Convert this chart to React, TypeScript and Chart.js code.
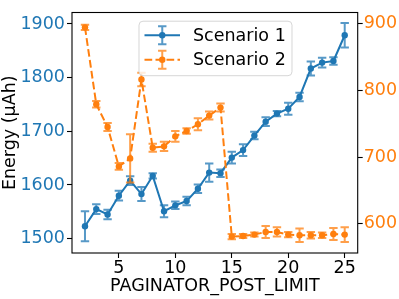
import React, { useEffect, useRef } from 'react';
import { Chart, registerables } from 'chart.js';

Chart.register(...registerables);

const xValues = [2, 3, 4, 5, 6, 7, 8, 9, 10, 11, 12, 13, 14, 15, 16, 17, 18, 19, 20, 21, 22, 23, 24, 25];
const scenario1 = [1523, 1555, 1545, 1580, 1608, 1583, 1617, 1551, 1562, 1570, 1593, 1623, 1622, 1651, 1665, 1692, 1718, 1733, 1742, 1764, 1817, 1828, 1831, 1879];
const scenario1Err = [28, 9, 9, 9, 8, 13, 5, 11, 7, 8, 8, 17, 7, 11, 11, 7, 8, 5, 11, 8, 13, 9, 7, 23];
const scenario2 = [894, 779, 745, 686, 698, 816, 714, 716, 731, 739, 749, 762, 774, 581, 582, 584, 588, 588, 584, 583, 583, 583, 585, 584];
const scenario2Err = [4, 5, 6, 5, 36, 10, 6, 7, 8, 4, 9, 6, 6, 4, 3, 3, 9, 7, 4, 10, 5, 4, 9, 11];
const xTicks = [5, 10, 15, 20, 25];
const leftTicks = [1500, 1600, 1700, 1800, 1900];
const rightTicks = [600, 700, 800, 900];
const seriesNames = ['Scenario 1', 'Scenario 2'];

const BLUE = '#1f77b4';
const ORANGE = '#ff7f0e';
const BLUE_ERR = 'rgba(31,119,180,0.75)';
const ORANGE_ERR = 'rgba(255,127,14,0.75)';
const FONT = 'DejaVu Sans';
const FS = 17.5;

const errorBarPlugin = {
  id: 'errorBars',
  beforeDatasetDraw(chart: any, args: any) {
    const ds = chart.data.datasets[args.index];
    const errs: number[] = ds.errors;
    if (!errs) return;
    const meta = args.meta;
    const xs = chart.scales[meta.xAxisID];
    const ys = chart.scales[meta.yAxisID];
    const ctx = chart.ctx;
    ctx.save();
    ctx.strokeStyle = ds.errColor;
    ctx.lineWidth = 2;
    ctx.setLineDash([]);
    ds.data.forEach((p: any, i: number) => {
      const x = xs.getPixelForValue(p.x);
      const y1 = ys.getPixelForValue(p.y + errs[i]);
      const y2 = ys.getPixelForValue(p.y - errs[i]);
      ctx.beginPath();
      ctx.moveTo(x, y1);
      ctx.lineTo(x, y2);
      ctx.moveTo(x - 4.2, y1);
      ctx.lineTo(x + 4.2, y1);
      ctx.moveTo(x - 4.2, y2);
      ctx.lineTo(x + 4.2, y2);
      ctx.stroke();
    });
    ctx.restore();
  },
};

const framePlugin = {
  id: 'frameAndLegend',
  afterDraw(chart: any) {
    const ctx = chart.ctx;
    const a = chart.chartArea;
    ctx.save();
    ctx.strokeStyle = '#000';
    ctx.lineWidth = 1.1;
    ctx.setLineDash([]);
    ctx.strokeRect(a.left, a.top, a.right - a.left, a.bottom - a.top);

    // legend
    const bx = a.left + 67, by = a.top + 8.7, bw = 153, bh = 54.5, r = 4;
    ctx.beginPath();
    ctx.moveTo(bx + r, by);
    ctx.lineTo(bx + bw - r, by);
    ctx.arcTo(bx + bw, by, bx + bw, by + r, r);
    ctx.lineTo(bx + bw, by + bh - r);
    ctx.arcTo(bx + bw, by + bh, bx + bw - r, by + bh, r);
    ctx.lineTo(bx + r, by + bh);
    ctx.arcTo(bx, by + bh, bx, by + bh - r, r);
    ctx.lineTo(bx, by + r);
    ctx.arcTo(bx, by, bx + r, by, r);
    ctx.closePath();
    ctx.fillStyle = 'rgba(255,255,255,0.8)';
    ctx.fill();
    ctx.strokeStyle = 'rgba(204,204,204,0.8)';
    ctx.lineWidth = 1;
    ctx.stroke();

    const entries = [
      { name: seriesNames[0], color: BLUE, err: BLUE_ERR, dash: [] as number[], y: by + 14 },
      { name: seriesNames[1], color: ORANGE, err: ORANGE_ERR, dash: [7.7, 3.3], y: by + 38.5 },
    ];
    entries.forEach((e) => {
      const x0 = bx + 5.5, x1 = bx + 41, xm = (x0 + x1) / 2;
      ctx.strokeStyle = e.err;
      ctx.lineWidth = 2;
      ctx.setLineDash([]);
      ctx.beginPath();
      ctx.moveTo(xm, e.y - 9);
      ctx.lineTo(xm, e.y + 9);
      ctx.moveTo(xm - 4.2, e.y - 9);
      ctx.lineTo(xm + 4.2, e.y - 9);
      ctx.moveTo(xm - 4.2, e.y + 9);
      ctx.lineTo(xm + 4.2, e.y + 9);
      ctx.stroke();
      ctx.strokeStyle = e.color;
      ctx.setLineDash(e.dash);
      ctx.beginPath();
      ctx.moveTo(x0, e.y);
      ctx.lineTo(x1, e.y);
      ctx.stroke();
      ctx.setLineDash([]);
      ctx.fillStyle = e.color;
      ctx.beginPath();
      ctx.arc(xm, e.y, 3.2, 0, Math.PI * 2);
      ctx.fill();
      ctx.fillStyle = '#000';
      ctx.font = `${FS}px "${FONT}"`;
      ctx.textBaseline = 'middle';
      ctx.textAlign = 'left';
      ctx.fillText(e.name, bx + 54, e.y + 1);
    });
    ctx.restore();
  },
};

const plain = (v: any) => String(v);

export default function App() {
  const ref = useRef<HTMLCanvasElement>(null);
  useEffect(() => {
    if (!ref.current) return;
    const chart = new Chart(ref.current, {
      type: 'line',
      data: {
        datasets: [
          {
            label: seriesNames[0],
            data: xValues.map((x, i) => ({ x, y: scenario1[i] })),
            errors: scenario1Err,
            errColor: BLUE_ERR,
            borderColor: BLUE,
            backgroundColor: BLUE,
            borderWidth: 2,
            pointRadius: 3.2,
            pointBorderWidth: 0,
            pointBackgroundColor: BLUE,
            yAxisID: 'y',
            xAxisID: 'x',
            order: 2,
            tension: 0,
          } as any,
          {
            label: seriesNames[1],
            data: xValues.map((x, i) => ({ x, y: scenario2[i] })),
            errors: scenario2Err,
            errColor: ORANGE_ERR,
            borderColor: ORANGE,
            backgroundColor: ORANGE,
            borderWidth: 2,
            borderDash: [7.7, 3.3],
            pointRadius: 3.2,
            pointBorderWidth: 0,
            pointBackgroundColor: ORANGE,
            yAxisID: 'y2',
            xAxisID: 'x',
            order: 1,
            tension: 0,
          } as any,
        ],
      },
      options: {
        responsive: false,
        maintainAspectRatio: false,
        animation: false,
        layout: { padding: { top: 2, left: 0, right: 0, bottom: 0 } },
        plugins: { legend: { display: false }, tooltip: { enabled: false } },
        scales: {
          x: {
            type: 'linear',
            position: 'bottom',
            min: 0.85,
            max: 26.15,
            afterBuildTicks: (s: any) => { s.ticks = xTicks.map((v) => ({ value: v })); },
            afterFit: (s: any) => { s.height = 46; },
            ticks: { color: '#000', font: { family: FONT, size: FS }, padding: 0, maxRotation: 0, callback: plain },
            grid: { display: true, drawOnChartArea: false, tickLength: 5, tickColor: '#000', tickWidth: 1.1 },
            border: { display: false },
            title: { display: true, text: 'PAGINATOR_POST_LIMIT', color: '#000', font: { family: FONT, size: FS }, padding: { top: 0, bottom: 2 } },
          },
          y: {
            type: 'linear',
            position: 'left',
            min: 1473.2,
            max: 1921.4,
            afterBuildTicks: (s: any) => { s.ticks = leftTicks.map((v) => ({ value: v })); },
            afterFit: (s: any) => { s.width = 72; },
            ticks: { color: BLUE, font: { family: FONT, size: FS }, padding: 2, callback: plain },
            grid: { display: true, drawOnChartArea: false, tickLength: 5, tickColor: '#000', tickWidth: 1.1 },
            border: { display: false },
            title: { display: true, text: 'Energy (µAh)', color: '#000', font: { family: FONT, size: FS }, padding: { top: 0, bottom: 0 } },
          },
          y2: {
            type: 'linear',
            position: 'right',
            min: 556.5,
            max: 916.2,
            afterBuildTicks: (s: any) => { s.ticks = rightTicks.map((v) => ({ value: v })); },
            afterFit: (s: any) => { s.width = 41.3; },
            ticks: { color: ORANGE, font: { family: FONT, size: FS }, padding: 1, callback: plain },
            grid: { display: true, drawOnChartArea: false, tickLength: 5, tickColor: '#000', tickWidth: 1.1 },
            border: { display: false },
          },
        },
      } as any,
      plugins: [errorBarPlugin, framePlugin],
    });
    return () => chart.destroy();
  }, []);
  return (
    <div style={{ position: 'fixed', left: 0, top: 0, width: 399, height: 299, background: '#fff' }}>
      <canvas ref={ref} width={399} height={299} style={{ width: 399, height: 299 }} />
    </div>
  );
}
